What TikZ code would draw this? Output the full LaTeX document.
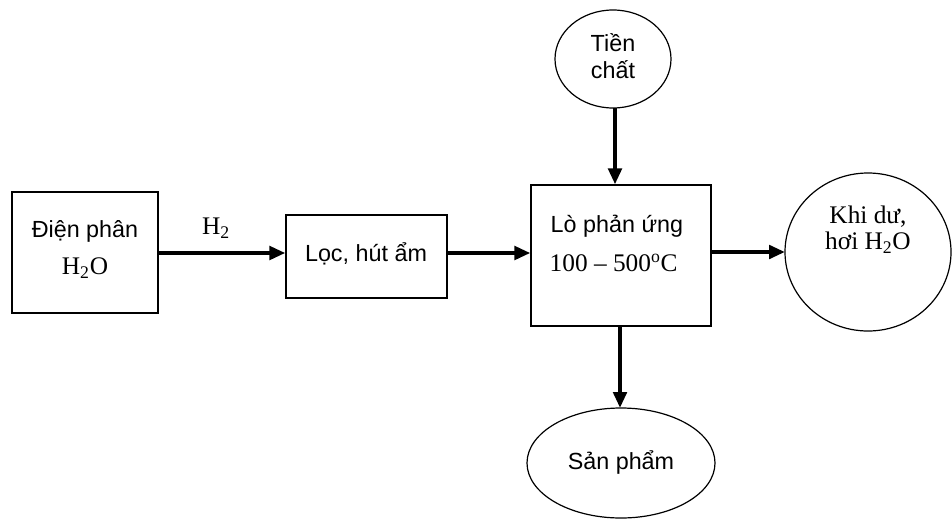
\documentclass[tikz,border=0pt]{standalone}
\usepackage{fontspec}
\setmainfont{Liberation Serif}
\setsansfont{Liberation Sans}
\usetikzlibrary{arrows.meta}
\begin{document}
\begin{tikzpicture}[x=0.75pt,y=-0.75pt,
  box/.style={draw,line width=0.9pt,inner sep=0pt},
  flow/.style={line width=3pt,-{Triangle[length=12pt,width=10pt]}},
  sans/.style={font=\sffamily\fontsize{17.5}{21}\selectfont},
  serif/.style={font=\rmfamily\fontsize{19}{22}\selectfont}]
\useasboundingbox (0,0) rectangle (952,518);

% process boxes
\node[box,minimum width=146*0.75pt,minimum height=121*0.75pt] (dien) at (85,252.5) {};
\node[box,minimum width=161*0.75pt,minimum height=83*0.75pt] (loc) at (366.5,256.5) {};
\node[box,minimum width=180*0.75pt,minimum height=141*0.75pt] (lo) at (621,255.5) {};

% inputs and outputs
\draw[line width=0.9pt] (613,59) ellipse [x radius=58, y radius=49];
\coordinate (tien) at (615,108);
\draw[line width=0.9pt] (868,252) ellipse [x radius=83, y radius=79];
\coordinate (khi) at (785,252);
\draw[line width=0.9pt] (621,463) ellipse [x radius=94, y radius=55];
\coordinate (san) at (620,408);

% labels
\node[sans] (t1) at (85,231) {Điện phân};
\node[serif] (t2) at (85,268) {H\textsubscript{2}O};
\node[serif] (h2) at (216,228) {H\textsubscript{2}};
\node[sans] (t3) at (366,254) {Lọc, hút ẩm};
\node[sans,anchor=west] (t4) at (546,226) {Lò phản ứng};
\node[serif,anchor=west] (t5) at (545,263) {100 -- 500\textsuperscript{o}C};
\node[sans] (t6) at (613,43) {Tiền};
\node[sans] (t7) at (613,70) {chất};
\node[serif] (t8) at (868,217) {Khi dư,};
\node[serif] (t9) at (868,243) {hơi H\textsubscript{2}O};
\node[sans] (t10) at (621,462) {Sản phẩm};

% connectors
\draw[flow] (dien.east |- 0,253) -- (loc.west |- 0,253);
\draw[flow] (loc.east |- 0,253) -- (lo.west |- 0,253);
\draw[flow] (tien) -- (lo.north -| tien);
\draw[flow] (lo.east |- khi) -- (khi);
\draw[flow] (lo.south -| san) -- (san);
\end{tikzpicture}
\end{document}
